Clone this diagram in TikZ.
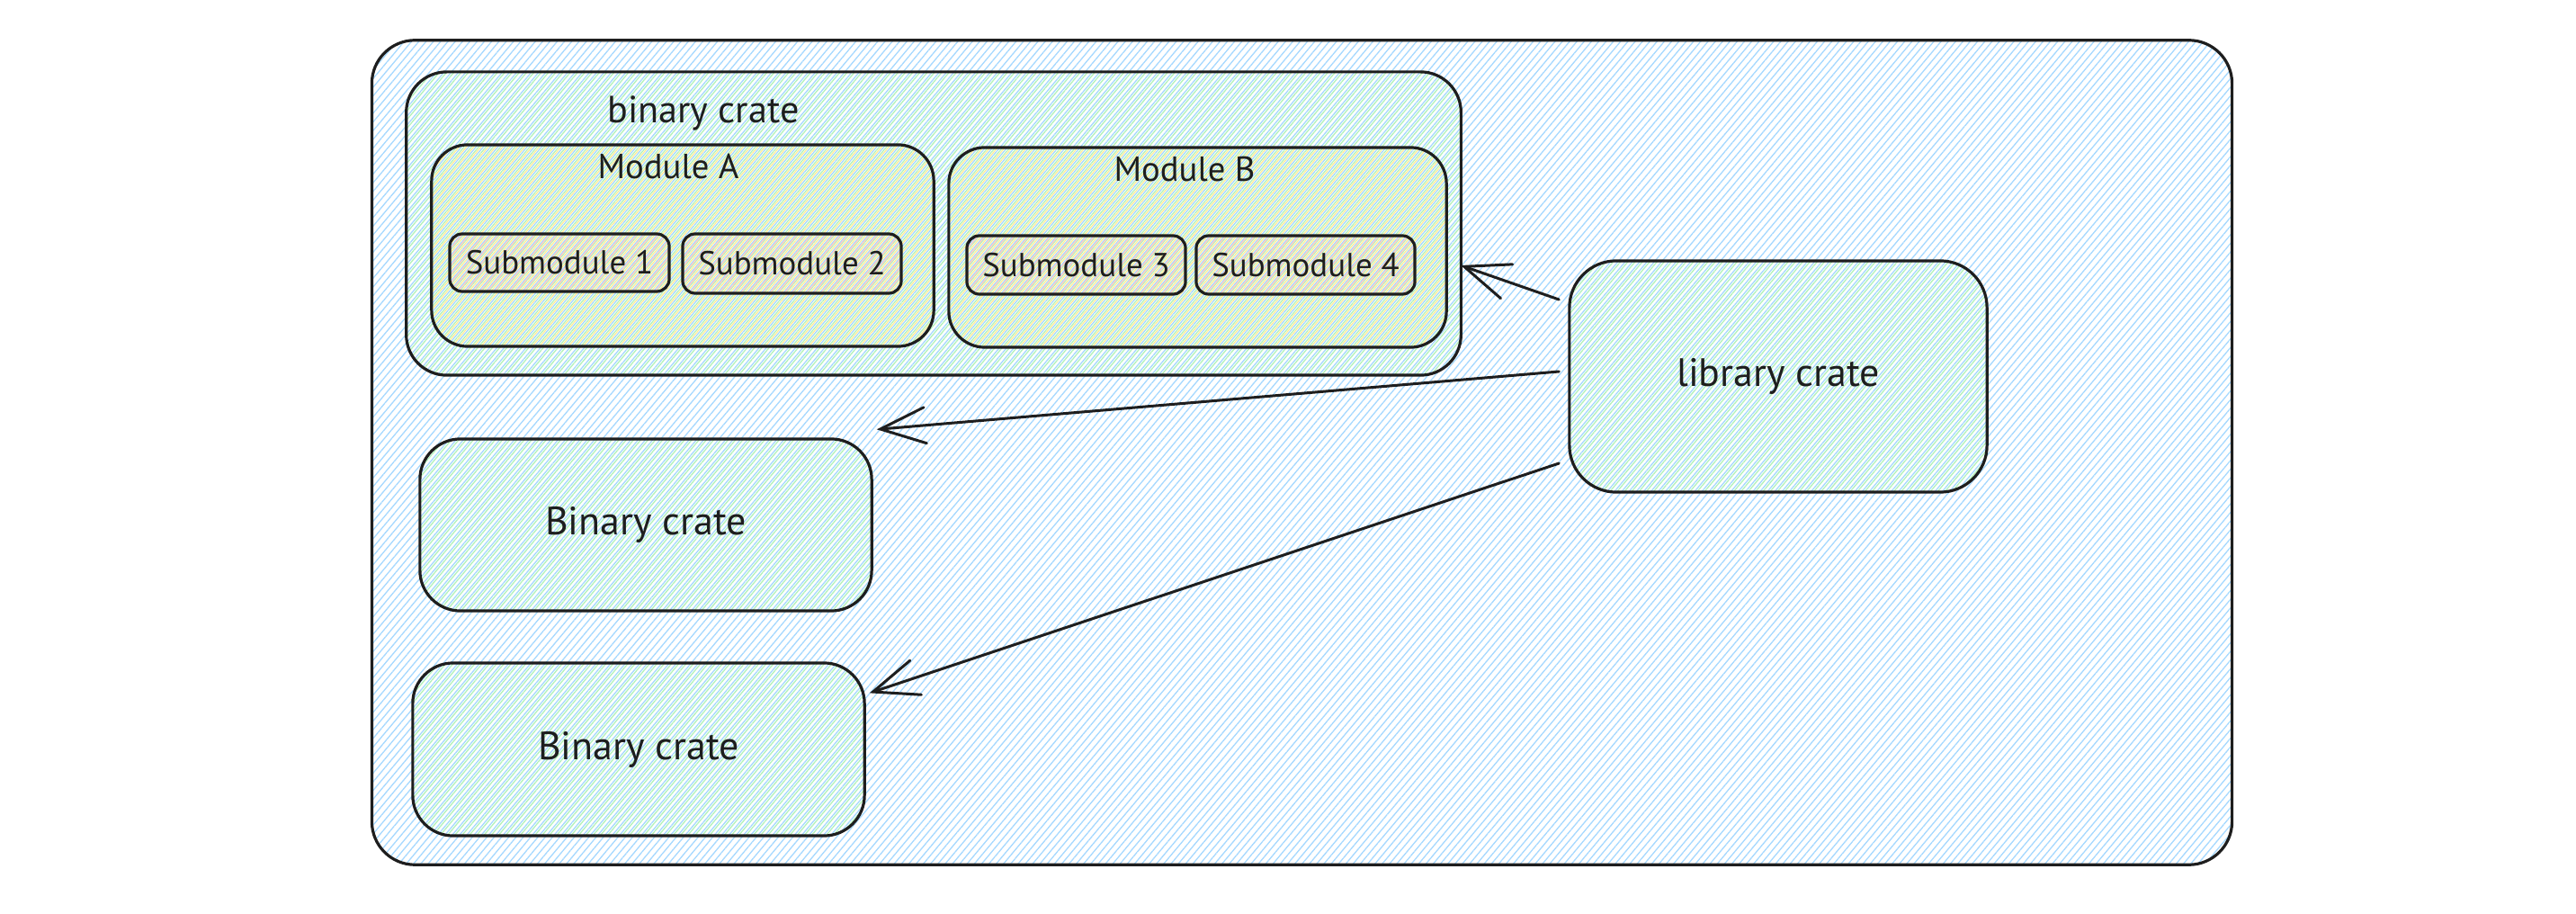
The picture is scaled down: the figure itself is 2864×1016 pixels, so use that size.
\documentclass[tikz,border=0pt]{standalone}
\usepackage{fontspec}
\setmainfont{PT Sans}
\usetikzlibrary{patterns.meta,arrows.meta,calc}
\definecolor{ink}{HTML}{1E1E1E}
\definecolor{hblue}{HTML}{A5D8FF}
\definecolor{hgreen}{HTML}{B2F2BB}
\definecolor{hyellow}{HTML}{FFEC99}
\definecolor{hred}{HTML}{FFC9C9}
\begin{document}
\begin{tikzpicture}[x=0.01cm,y=-0.01cm,
  box/.style={draw=ink, line width=0.032cm, inner sep=0pt, text=ink},
  hatchblue/.style={pattern={Lines[angle=50,distance=0.062cm,line width=0.013cm]}, pattern color=hblue},
  hatchgreen/.style={pattern={Lines[angle=50,distance=0.062cm,line width=0.013cm,xshift=0.03cm]}, pattern color=hgreen},
  hatchyellow/.style={pattern={Lines[angle=50,distance=0.062cm,line width=0.013cm,xshift=0.055cm]}, pattern color=hyellow},
  hatchred/.style={pattern={Lines[angle=50,distance=0.062cm,line width=0.013cm,xshift=0.015cm]}, pattern color=hred},
  bigfont/.style={font=\fontsize{12.5}{15}\selectfont},
  titlefont/.style={font=\fontsize{12}{14}\selectfont, text=ink},
  modfont/.style={font=\fontsize{11}{13}\selectfont, text=ink},
  subfont/.style={font=\fontsize{10.5}{12}\selectfont},
  arr/.style={draw=ink, line width=0.03cm, line cap=round,
    -{Straight Barb[length=0.5cm,width=0.4cm,line cap=round]}},
]
\useasboundingbox (0,0) rectangle (2864,1016);

% workspace
\node[box, hatchblue, rounded corners=0.48cm, minimum width=20.67cm, minimum height=9.16cm] (ws) at (1447.5,503) {};

% top binary crate with its modules
\node[box, hatchgreen, rounded corners=0.45cm, minimum width=11.72cm, minimum height=3.37cm] (bin) at (1038,248.5) {};
\node[titlefont] (bint) at (782,126) {binary crate};

\node[box, hatchyellow, rounded corners=0.4cm, minimum width=5.58cm, minimum height=2.24cm] (ma) at (759,273) {};
\node[modfont] (mat) at (743,185) {Module A};
\node[box, hatchyellow, rounded corners=0.4cm, minimum width=5.53cm, minimum height=2.22cm] (mb) at (1331.5,275) {};
\node[modfont] (mbt) at (1317,188) {Module B};

\node[box, hatchred, subfont, rounded corners=0.14cm, minimum width=2.44cm, minimum height=0.64cm] (s1) at (622,292) {Submodule 1};
\node[box, hatchred, subfont, rounded corners=0.14cm, minimum width=2.43cm, minimum height=0.66cm] (s2) at (880.5,293) {Submodule 2};
\node[box, hatchred, subfont, rounded corners=0.14cm, minimum width=2.43cm, minimum height=0.65cm] (s3) at (1196.5,294.5) {Submodule 3};
\node[box, hatchred, subfont, rounded corners=0.14cm, minimum width=2.43cm, minimum height=0.65cm] (s4) at (1451.5,294.5) {Submodule 4};

% library crate and the two further binary crates
\node[box, hatchgreen, bigfont, rounded corners=0.52cm, minimum width=4.64cm, minimum height=2.57cm] (lib) at (1977,418.5) {library crate};
\node[box, hatchgreen, bigfont, rounded corners=0.45cm, minimum width=5.02cm, minimum height=1.91cm] (bin2) at (718,583.5) {Binary crate};
\node[box, hatchgreen, bigfont, rounded corners=0.45cm, minimum width=5.02cm, minimum height=1.92cm] (bin3) at (710,833) {Binary crate};

% dependencies
\draw[arr] ($(lib.west)+(-10,-85.5)$) -- ($(bin.east)+(-1,46.5)$);
\draw[arr] ($(lib.west)+(-10,-5.5)$) -- ($(bin2.north east)+(4,-9)$);
\draw[arr] ($(lib.west)+(-10,96.5)$) -- ($(bin3.north east)+(4,35)$);
\end{tikzpicture}
\end{document}
